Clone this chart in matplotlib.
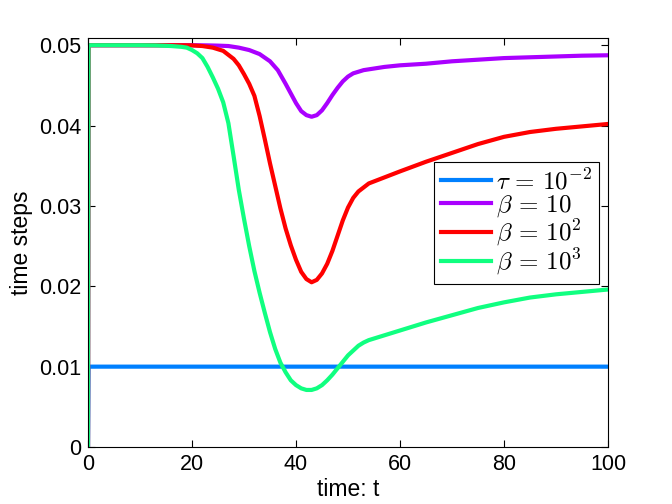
import matplotlib
matplotlib.use("Agg")
import matplotlib.pyplot as plt

# ---- data ----
t_tau = [0, 0.1, 100]
y_tau = [0, 0.01, 0.01]

t_b10 = [0, 0.1, 5, 10, 15, 20, 23, 25, 27, 29, 31, 33, 35, 36.5, 38, 39, 40, 41, 42, 43, 44, 45, 46,
         47, 48, 49, 50, 51, 52, 53, 55, 57, 60, 65, 70, 75, 80, 85, 90, 95, 100]
y_b10 = [0, 0.05, 0.05, 0.05, 0.05, 0.05, 0.04998, 0.04995, 0.0499, 0.0497, 0.0494, 0.0489, 0.0480,
         0.0469, 0.0452, 0.0440, 0.0428, 0.0418, 0.0413, 0.0411, 0.0413, 0.0419, 0.0428, 0.0438,
         0.0447, 0.0455, 0.0461, 0.0465, 0.0467, 0.0469, 0.0471, 0.0473, 0.0475, 0.0477, 0.0480,
         0.0482, 0.0484, 0.0485, 0.0486, 0.0487, 0.04875]

t_b100 = [0, 0.1, 5, 10, 15, 18, 20, 22, 24, 26, 28, 29, 30, 31, 32, 33, 34, 35, 36, 37, 38, 39, 40,
          41, 42, 43, 44, 45, 46, 47, 48, 49, 50, 51, 52, 53, 54, 56, 58, 60, 65, 70, 75, 80, 85,
          90, 95, 100]
y_b100 = [0, 0.05, 0.05, 0.05, 0.05, 0.05, 0.04998, 0.0499, 0.0497, 0.0493, 0.0483, 0.0475, 0.0464,
          0.0452, 0.0437, 0.0412, 0.0383, 0.0353, 0.0325, 0.0297, 0.0272, 0.0251, 0.0233, 0.0218,
          0.0209, 0.0205, 0.0208, 0.0216, 0.0228, 0.0244, 0.0263, 0.0282, 0.0298, 0.0310, 0.0318,
          0.0323, 0.0328, 0.0333, 0.0338, 0.0343, 0.0355, 0.0366, 0.0377, 0.0386, 0.0392, 0.0396,
          0.0399, 0.0402]

t_b1000 = [0, 0.1, 5, 10, 13, 16, 18, 19, 20, 21, 22, 23, 24, 25, 26, 27, 28, 29, 30, 31, 32, 33, 34,
           35, 36, 37, 38, 39, 40, 41, 42, 43, 44, 45, 46, 47, 48, 49, 50, 51, 52, 53, 54, 56, 58,
           60, 65, 70, 75, 80, 85, 90, 95, 100]
y_b1000 = [0, 0.05, 0.05, 0.05, 0.04998, 0.0499, 0.0498, 0.0497, 0.0494, 0.0490, 0.0484, 0.0473,
           0.0460, 0.0446, 0.0429, 0.0403, 0.0362, 0.0320, 0.0284, 0.0250, 0.0219, 0.0192, 0.0167,
           0.0143, 0.0122, 0.0105, 0.0093, 0.0083, 0.0077, 0.0073, 0.0071, 0.0071, 0.0073, 0.0077,
           0.0083, 0.0090, 0.0098, 0.0106, 0.0114, 0.0120, 0.0126, 0.0130, 0.0133, 0.0137, 0.0141,
           0.0145, 0.0155, 0.0164, 0.0173, 0.0180, 0.0186, 0.0190, 0.0193, 0.0196]

labels = [r'$\tau\,=\,10^{-2}$', r'$\beta\,=\,10$', r'$\beta\,=\,10^{2}$', r'$\beta\,=\,10^{3}$']
colors = ['#0080FF', '#AA00FF', '#FF0000', '#10FF80']
x_ticks = [0, 20, 40, 60, 80, 100]
y_ticks = [0, 0.01, 0.02, 0.03, 0.04, 0.05]
y_ticklabels = ['0', '0.01', '0.02', '0.03', '0.04', '0.05']

# ---- plot ----
plt.rcParams['font.family'] = ['Liberation Sans', 'DejaVu Sans']
plt.rcParams['mathtext.fontset'] = 'cm'

fig = plt.figure(figsize=(6.72, 5.04), dpi=100)
ax = fig.add_axes([88 / 672, 57 / 504, 520 / 672, 409 / 504])

series = [(t_tau, y_tau), (t_b10, y_b10), (t_b100, y_b100), (t_b1000, y_b1000)]
for (t, y), c, lab in zip(series, colors, labels):
    ax.plot(t, y, color=c, lw=3.0, label=lab, solid_joinstyle='round')

ax.set_xlim(0, 100)
ax.set_ylim(0, 0.0509)
ax.set_xticks(x_ticks)
ax.set_xticklabels([str(v) for v in x_ticks])
ax.set_yticks(y_ticks)
ax.set_yticklabels(y_ticklabels)
ax.tick_params(direction='in', length=5, width=0.8, top=True, right=True,
               labelsize=15.5, pad=5)
for s in ax.spines.values():
    s.set_linewidth(0.8)

ax.set_xlabel('time: t', fontsize=16.5, labelpad=2)
ax.set_ylabel('time steps', fontsize=16.5, labelpad=4)

leg = ax.legend(loc='upper left', bbox_to_anchor=(0.666, 0.698), fontsize=18,
                fancybox=False, edgecolor='black', framealpha=1, handlelength=2.0,
                handletextpad=0.2, borderpad=0.28, labelspacing=-0.06, borderaxespad=0)
leg.get_frame().set_linewidth(0.8)

fig.savefig('out.png', dpi=100)
